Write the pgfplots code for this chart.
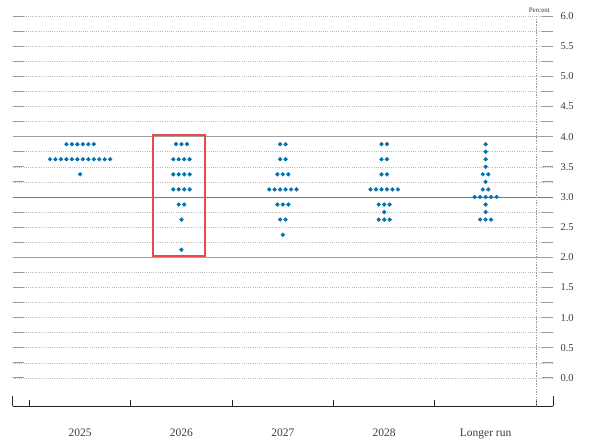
\documentclass[border=0pt]{standalone}
\usepackage{pgfplots}
\pgfplotsset{compat=1.18}
\usepackage{fontspec}
\setmainfont{Liberation Serif}
\definecolor{dotblue}{RGB}{0,114,178}
\definecolor{boxred}{RGB}{236,72,76}
\definecolor{txt}{RGB}{60,60,60}

\begin{document}
\begin{tikzpicture}
\begin{axis}[
    scale only axis,
    width=540.3pt, height=390.3pt,
    xmin=-0.665, xmax=4.665,
    ymin=-0.47, ymax=6,
    axis line style={draw=none},
    clip=false,
    tick align=inside,
    % x: boundaries between the panels, labels in between
    xtick={-0.5,0.5,1.5,2.5,3.5,4.5},
    x tick label as interval,
    xticklabels={2025,2026,2027,2028,Longer run},
    xtick pos=lower,
    xtick style={/pgfplots/major tick length=6pt, black!85, line width=0.9pt},
    xticklabel style={font=\fontsize{11.5}{13}\selectfont, text=txt, yshift=-19pt},
    % y: percent levels on the right
    ytick={0,0.5,...,6},
    minor y tick num=1,
    minor tick length=11pt,
    ytick pos=both,
    yticklabel pos=right,
    ytick style={/pgfplots/major tick length=11pt, gray!80, line width=0.9pt},
    every minor y tick/.append style={gray!80, line width=0.9pt},
    yticklabel style={font=\fontsize{10.5}{12}\selectfont, text=txt, xshift=4pt},
    /pgf/number format/assume math mode=true,
    yticklabel={\pgfmathprintnumber[fixed,fixed zerofill,precision=1]{\tick}},
    ymajorgrids, yminorgrids,
    major grid style={gray!55, dash pattern=on 1pt off 1.2pt, line width=0.6pt},
    minor grid style={gray!55, dash pattern=on 1pt off 1.2pt, line width=0.6pt},
    dots/.style={only marks, mark=*, mark size=1.95pt, color=dotblue, mark options={draw=dotblue, fill=dotblue}},
]
% solid reference lines
\draw[gray!75, line width=0.8pt] (axis cs:-0.665,4) -- (axis cs:4.665,4);
\draw[gray!75, line width=0.8pt] (axis cs:-0.665,2) -- (axis cs:4.665,2);
\draw[gray!95!black, line width=0.9pt] (axis cs:-0.665,3) -- (axis cs:4.665,3);
% separator before longer run
\draw[gray!80, dash pattern=on 1.5pt off 1.2pt, line width=0.9pt] (axis cs:4.5,-0.47) -- (axis cs:4.5,6);
% bottom axis
\draw[black!85, line width=1.1pt] (axis cs:-0.665,-0.47) -- (axis cs:4.665,-0.47);
\draw[black!85, line width=0.9pt] (axis cs:-0.665,-0.47) -- ([yshift=10pt]axis cs:-0.665,-0.47);
\draw[black!85, line width=0.9pt] (axis cs:4.665,-0.47) -- ([yshift=10pt]axis cs:4.665,-0.47);

% 2025
\addplot[dots] coordinates {
(-0.135,3.875)(-0.081,3.875)(-0.027,3.875)(0.027,3.875)(0.081,3.875)(0.135,3.875)
(-0.297,3.625)(-0.243,3.625)(-0.189,3.625)(-0.135,3.625)(-0.081,3.625)(-0.027,3.625)
(0.027,3.625)(0.081,3.625)(0.135,3.625)(0.189,3.625)(0.243,3.625)(0.297,3.625)
(0,3.375)
};
% 2026
\addplot[dots] coordinates {
(0.946,3.875)(1,3.875)(1.054,3.875)
(0.919,3.625)(0.973,3.625)(1.027,3.625)(1.081,3.625)
(0.919,3.375)(0.973,3.375)(1.027,3.375)(1.081,3.375)
(0.919,3.125)(0.973,3.125)(1.027,3.125)(1.081,3.125)
(0.973,2.875)(1.027,2.875)
(1,2.625)
(1,2.125)
};
% 2027
\addplot[dots] coordinates {
(1.973,3.875)(2.027,3.875)
(1.973,3.625)(2.027,3.625)
(1.946,3.375)(2,3.375)(2.054,3.375)
(1.865,3.125)(1.919,3.125)(1.973,3.125)(2.027,3.125)(2.081,3.125)(2.135,3.125)
(1.946,2.875)(2,2.875)(2.054,2.875)
(1.973,2.625)(2.027,2.625)
(2,2.375)
};
% 2028
\addplot[dots] coordinates {
(2.973,3.875)(3.027,3.875)
(2.973,3.625)(3.027,3.625)
(2.973,3.375)(3.027,3.375)
(2.865,3.125)(2.919,3.125)(2.973,3.125)(3.027,3.125)(3.081,3.125)(3.135,3.125)
(2.946,2.875)(3,2.875)(3.054,2.875)
(3,2.75)
(2.946,2.625)(3,2.625)(3.054,2.625)
};
% Longer run
\addplot[dots] coordinates {
(4,3.875)
(4,3.75)
(4,3.625)
(4,3.5)
(3.973,3.375)(4.027,3.375)
(4,3.25)
(3.973,3.125)(4.027,3.125)
(3.892,3)(3.946,3)(4,3)(4.054,3)(4.108,3)
(4,2.875)
(4,2.75)
(3.946,2.625)(4,2.625)(4.054,2.625)
};

% highlight box round 2026
\draw[boxred, line width=2.4pt] (axis cs:0.718,4.03) rectangle (axis cs:1.231,2.02);

\node[anchor=south east, font=\fontsize{7}{8}\selectfont, text=txt, inner sep=0pt] at (rel axis cs:1,1) [xshift=-3pt, yshift=3pt] {Percent};

\coordinate (bl) at (rel axis cs:0,0);
\coordinate (tr) at (rel axis cs:1,1);
\end{axis}
\pgfresetboundingbox
\path[use as bounding box] ([shift={(-12.7pt,-41.7pt)}]bl) rectangle ([shift={(48pt,16pt)}]tr);
\end{tikzpicture}
\end{document}
